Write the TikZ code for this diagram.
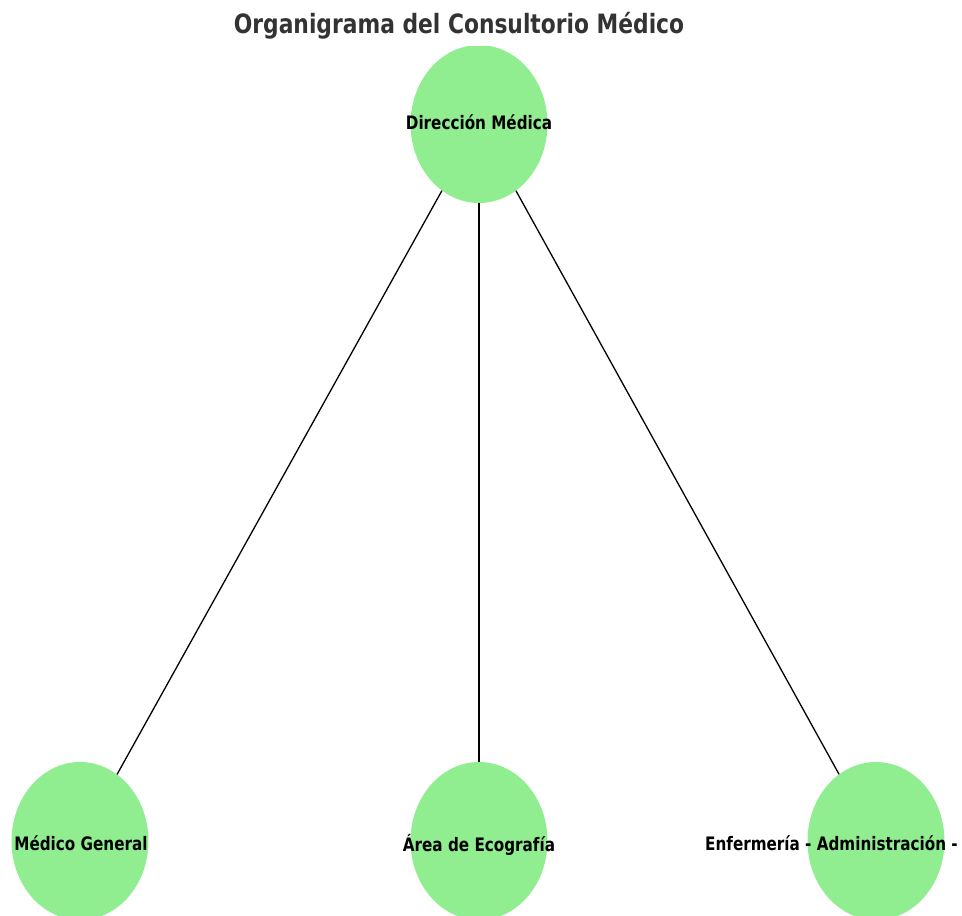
\documentclass[tikz,border=0pt]{standalone}
\usepackage{fontspec}
\setmainfont{DejaVu Sans}
\usetikzlibrary{shapes.geometric}
\definecolor{nodegreen}{HTML}{90EE90}
\definecolor{titlegray}{HTML}{333333}
\newcommand{\tallbox}[1]{\scalebox{1}[1.22]{#1}}
\tikzset{
  org/.style={ellipse, fill=nodegreen, draw=none, minimum width=137pt, minimum height=158pt, inner sep=0pt},
  lbl/.style={font=\bfseries\fontsize{15.2}{17}\selectfont, text=black, inner sep=0pt},
  link/.style={draw=black, line width=1.3pt},
}
\begin{document}
\begin{tikzpicture}[x=1pt,y=-1pt]
\useasboundingbox (0,0) rectangle (962,916);
\node[font=\bfseries\fontsize{21.8}{24}\selectfont, text=titlegray, inner sep=0pt] (title) at (459,26) {\tallbox{Organigrama del Consultorio Médico}};
\begin{scope}
\clip (0,46) rectangle (962,916);
\node[org] (dir) at (479,124) {};
\node[org] (med) at (80,841) {};
\node[org] (eco) at (479,841) {};
\node[org] (enf) at (876,841) {};
\draw[link] (dir) -- (med);
\draw[link] (dir) -- (eco);
\draw[link] (dir) -- (enf);
\node[lbl] (tdir) at (479,122) {\tallbox{Dirección Médica}};
\node[lbl] (tmed) at (81,843) {\tallbox{Médico General}};
\node[lbl] (teco) at (479,845) {\tallbox{Área de Ecografía}};
\node[lbl, anchor=west] (tenf) at (705,843) {\tallbox{Enfermería - Administración -}};
\end{scope}
\end{tikzpicture}
\end{document}
